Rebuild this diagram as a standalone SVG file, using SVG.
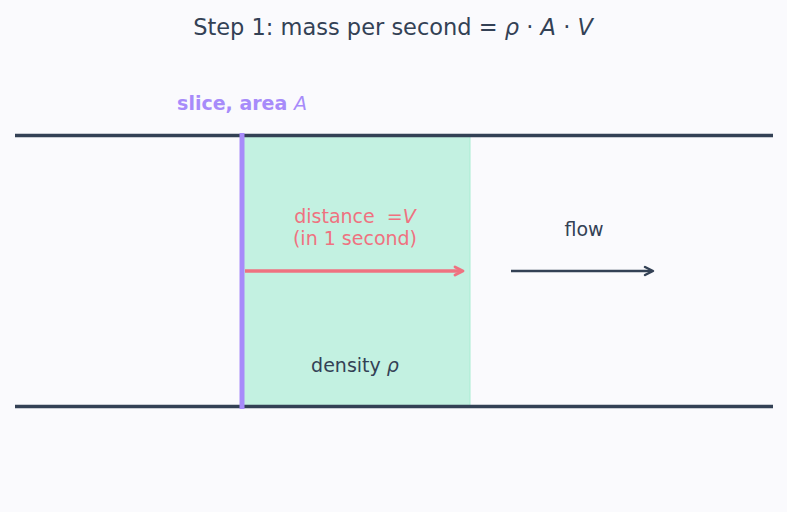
<svg xmlns="http://www.w3.org/2000/svg" width="787" height="512" viewBox="0 0 787 512">
<style>
text{font-family:"DejaVu Sans","Noto Sans",sans-serif;text-anchor:middle}
.title{font-size:22.5px;fill:#334155}
.lbl{font-size:19px;fill:#334155}
.pink{font-size:19px;fill:#ef7280}
.purple{font-size:19px;fill:#a78bfa;font-weight:bold}
.pipe{stroke:#334155;stroke-width:3.5;fill:none}
</style>
<defs>
<marker id="ahPink" markerWidth="12" markerHeight="12" refX="9" refY="6" orient="auto" markerUnits="userSpaceOnUse">
<path d="M2,2 L10,6 L2,10" fill="none" stroke="#ef7280" stroke-width="2.8" stroke-linecap="round" stroke-linejoin="round"/>
</marker>
<marker id="ahDark" markerWidth="12" markerHeight="12" refX="9" refY="6" orient="auto" markerUnits="userSpaceOnUse">
<path d="M2,2 L10,6 L2,10" fill="none" stroke="#334155" stroke-width="2.5" stroke-linecap="round" stroke-linejoin="round"/>
</marker>
</defs>
<rect width="787" height="512" fill="#fafafd"/>
<text class="title" x="393" y="35">Step 1: mass per second = <tspan font-style="italic">ρ</tspan> · <tspan font-style="italic">A</tspan> · <tspan font-style="italic">V</tspan></text>
<g id="slice">
<rect x="242" y="135" width="228" height="271" fill="#c3f1e1" stroke="#a8ecd2" stroke-width="1"/>
</g>
<g id="pipe">
<line class="pipe" x1="15" y1="135.5" x2="773" y2="135.5"/>
<line class="pipe" x1="15" y1="406.5" x2="773" y2="406.5"/>
</g>
<g id="slice-face">
<line x1="242" y1="133" x2="242" y2="409" stroke="#a78bfa" stroke-width="5"/>
<text class="purple" x="242" y="110">slice, area <tspan font-style="italic" font-weight="normal">A</tspan></text>
</g>
<g id="connectors">
<line x1="245" y1="271" x2="462" y2="271" stroke="#ef7280" stroke-width="3.5" marker-end="url(#ahPink)"/>
<line x1="511" y1="271" x2="652" y2="271" stroke="#334155" stroke-width="2.5" marker-end="url(#ahDark)"/>
</g>
<g id="labels">
<text class="pink" x="355" y="223">distance <tspan dx="6">=</tspan><tspan font-style="italic">V</tspan></text>
<text class="pink" x="355" y="245">(in 1 second)</text>
<text class="lbl" x="355" y="372">density <tspan font-style="italic">ρ</tspan></text>
<text class="lbl" x="584" y="236">flow</text>
</g>
</svg>
